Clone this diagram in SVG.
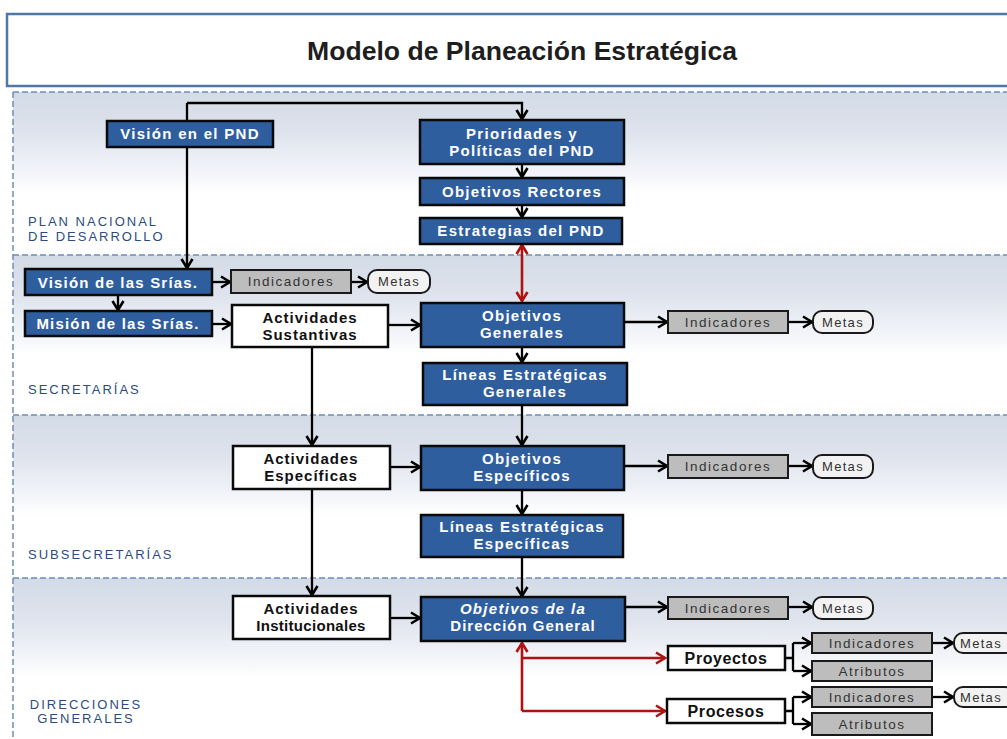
<svg xmlns="http://www.w3.org/2000/svg" width="1007" height="739" viewBox="0 0 1007 739">
<defs>
<linearGradient id="sec" x1="0" y1="0" x2="0" y2="1">
<stop offset="0" stop-color="#d2dbe6"/>
<stop offset="0.25" stop-color="#dfe3ed"/>
<stop offset="0.5" stop-color="#f3f5f9"/>
<stop offset="0.62" stop-color="#ffffff"/>
<stop offset="1" stop-color="#ffffff"/>
</linearGradient>
<marker id="ah" markerUnits="userSpaceOnUse" markerWidth="14" markerHeight="14" refX="11" refY="7" orient="auto">
<path d="M2,1.5 L11,7 L2,12.5" fill="none" stroke="#000" stroke-width="2.6"/>
</marker>
<marker id="rh" markerUnits="userSpaceOnUse" markerWidth="14" markerHeight="14" refX="11" refY="7" orient="auto-start-reverse">
<path d="M2,1.5 L11,7 L2,12.5" fill="none" stroke="#b01212" stroke-width="2.6"/>
</marker>
</defs>
<style>
.blue{fill:#2f5e9e;stroke:#0a0a0a;stroke-width:2.5}
.white{fill:#ffffff;stroke:#0a0a0a;stroke-width:2.5}
.gray{fill:#bdbdbd;stroke:#1a1a1a;stroke-width:2}
.metas{fill:#f2f2f2;stroke:#1a1a1a;stroke-width:2}
.tw{font-family:"Liberation Sans",Arial,sans-serif;font-weight:bold;font-size:15px;fill:#ffffff;text-anchor:middle;letter-spacing:1.3px}
.tb{font-family:"Liberation Sans",Arial,sans-serif;font-weight:bold;font-size:15px;fill:#111;text-anchor:middle;letter-spacing:1px}
.tg{font-family:"Liberation Sans",Arial,sans-serif;font-size:13.5px;fill:#333;text-anchor:middle;letter-spacing:1.5px}
.tm{font-family:"Liberation Sans",Arial,sans-serif;font-size:13px;fill:#333;text-anchor:middle;letter-spacing:1.3px}
.sl{font-family:"Liberation Sans",Arial,sans-serif;font-size:13px;fill:#2c4c80;letter-spacing:2px}
.dash{stroke:#6f8fb5;stroke-width:1.5;stroke-dasharray:6 3;fill:none}
.c{fill:none;stroke:#000;stroke-width:2.3;marker-end:url(#ah)}
.cn{fill:none;stroke:#000;stroke-width:2.3}
.r{fill:none;stroke:#b01212;stroke-width:2.6}
</style>
<rect x="0" y="0" width="1007" height="739" fill="#ffffff"/>
<g id="title">
<rect x="7" y="14" width="1010" height="72" fill="#ffffff" stroke="#4f78a6" stroke-width="2.5"/>
<text x="522" y="60" font-family="Liberation Sans,Arial,sans-serif" font-weight="bold" font-size="25" fill="#1e1e1e" text-anchor="middle" textLength="430" lengthAdjust="spacingAndGlyphs">Modelo de Planeación Estratégica</text>
</g>
<g id="sections">
<rect x="13" y="92" width="1000" height="163" fill="url(#sec)"/>
<rect x="13" y="255" width="1000" height="160" fill="url(#sec)"/>
<rect x="13" y="415" width="1000" height="163" fill="url(#sec)"/>
<rect x="13" y="578" width="1000" height="161" fill="url(#sec)"/>
<line class="dash" x1="13" y1="92" x2="1007" y2="92"/>
<line class="dash" x1="13" y1="255" x2="1007" y2="255"/>
<line class="dash" x1="13" y1="415" x2="1007" y2="415"/>
<line class="dash" x1="13" y1="578" x2="1007" y2="578"/>
<line class="dash" x1="13" y1="92" x2="13" y2="739"/>
<text class="sl" x="28" y="226">PLAN NACIONAL</text>
<text class="sl" x="28" y="241">DE DESARROLLO</text>
<text class="sl" x="28" y="394">SECRETARÍAS</text>
<text class="sl" x="28" y="559">SUBSECRETARÍAS</text>
<text class="sl" x="86" y="709" text-anchor="middle">DIRECCIONES</text>
<text class="sl" x="86" y="723" text-anchor="middle">GENERALES</text>
</g>
<g id="connectors">
<path class="c" d="M187,103 V268"/>
<path class="c" d="M187,103 H522 V119"/>
<path class="c" d="M522,164 V177"/>
<path class="c" d="M522,205 V217"/>
<path class="r" d="M522,245 V301" marker-start="url(#rh)" marker-end="url(#rh)"/>
<path class="c" d="M212,282 H230"/>
<path class="c" d="M351,282 H367"/>
<path class="c" d="M118,295 V310"/>
<path class="c" d="M212,324 H231"/>
<path class="c" d="M388,325 H420"/>
<path class="c" d="M624,322 H667"/>
<path class="c" d="M788,322 H812"/>
<path class="c" d="M522,347 V362"/>
<path class="c" d="M312,347 V445"/>
<path class="c" d="M522,405 V445"/>
<path class="c" d="M390,467 H420"/>
<path class="c" d="M624,466 H667"/>
<path class="c" d="M788,466 H812"/>
<path class="c" d="M522,490 V514"/>
<path class="c" d="M312,489 V595"/>
<path class="c" d="M522,557 V596"/>
<path class="c" d="M390,618 H420"/>
<path class="c" d="M625,607 H667"/>
<path class="c" d="M788,607 H812"/>
<path class="r" d="M522,711 V643" marker-end="url(#rh)"/>
<path class="r" d="M522,711 H665" marker-end="url(#rh)"/>
<path class="r" d="M522,658 H665" marker-end="url(#rh)"/>
<path class="cn" d="M786,658 H793 M793,643 V671"/>
<path class="c" d="M793,643 H811"/>
<path class="c" d="M793,671 H811"/>
<path class="cn" d="M786,711 H793 M793,697 V724"/>
<path class="c" d="M793,697 H811"/>
<path class="c" d="M793,724 H811"/>
<path class="c" d="M932,643 H953"/>
<path class="c" d="M932,697 H953"/>
</g>
<g id="n-vision-pnd"><rect class="blue" x="107" y="121" width="166" height="26"/><text class="tw" x="190" y="139">Visión en el PND</text></g>
<g id="n-prioridades"><rect class="blue" x="420" y="120" width="204" height="44"/><text class="tw" x="522" y="139">Prioridades y</text><text class="tw" x="522" y="156">Políticas del PND</text></g>
<g id="n-obj-rectores"><rect class="blue" x="420" y="178" width="204" height="27"/><text class="tw" x="522" y="197">Objetivos Rectores</text></g>
<g id="n-estrategias"><rect class="blue" x="420" y="218" width="202" height="26"/><text class="tw" x="521" y="236">Estrategias del PND</text></g>
<g id="n-vision-srias"><rect class="blue" x="25" y="269" width="187" height="26"/><text class="tw" x="118" y="288" style="letter-spacing:1.2px">Visión de las Srías.</text></g>
<g id="n-ind-1"><rect class="gray" x="231" y="270" width="120" height="23"/><text class="tg" x="291" y="286">Indicadores</text></g>
<g id="n-metas-1"><rect class="metas" x="368" y="270" width="62" height="23" rx="9"/><text class="tm" x="399" y="286">Metas</text></g>
<g id="n-mision-srias"><rect class="blue" x="25" y="311" width="187" height="25"/><text class="tw" x="118" y="329" style="letter-spacing:1.2px">Misión de las Srías.</text></g>
<g id="n-act-sust"><rect class="white" x="232" y="305" width="156" height="42"/><text class="tb" x="310" y="323">Actividades</text><text class="tb" x="310" y="340">Sustantivas</text></g>
<g id="n-obj-gen"><rect class="blue" x="421" y="303" width="203" height="44"/><text class="tw" x="522" y="321">Objetivos</text><text class="tw" x="522" y="338">Generales</text></g>
<g id="n-ind-2"><rect class="gray" x="668" y="311" width="120" height="22"/><text class="tg" x="728" y="327">Indicadores</text></g>
<g id="n-metas-2"><rect class="metas" x="813" y="311" width="60" height="22" rx="9"/><text class="tm" x="843" y="327">Metas</text></g>
<g id="n-lineas-gen"><rect class="blue" x="423" y="363" width="204" height="42"/><text class="tw" x="525" y="380">Líneas Estratégicas</text><text class="tw" x="525" y="397">Generales</text></g>
<g id="n-act-esp"><rect class="white" x="233" y="446" width="157" height="43"/><text class="tb" x="311" y="464">Actividades</text><text class="tb" x="311" y="481">Específicas</text></g>
<g id="n-obj-esp"><rect class="blue" x="421" y="446" width="203" height="44"/><text class="tw" x="522" y="464">Objetivos</text><text class="tw" x="522" y="481">Específicos</text></g>
<g id="n-ind-3"><rect class="gray" x="668" y="455" width="120" height="23"/><text class="tg" x="728" y="471">Indicadores</text></g>
<g id="n-metas-3"><rect class="metas" x="813" y="455" width="60" height="23" rx="9"/><text class="tm" x="843" y="471">Metas</text></g>
<g id="n-lineas-esp"><rect class="blue" x="421" y="515" width="202" height="42"/><text class="tw" x="522" y="532">Líneas Estratégicas</text><text class="tw" x="522" y="549">Específicas</text></g>
<g id="n-act-inst"><rect class="white" x="233" y="596" width="157" height="43"/><text class="tb" x="311" y="614">Actividades</text><text class="tb" x="311" y="631" style="letter-spacing:0.3px">Institucionales</text></g>
<g id="n-obj-dg"><rect class="blue" x="421" y="597" width="204" height="44"/><text class="tw" x="523" y="614" font-style="italic">Objetivos de la</text><text class="tw" x="523" y="631" style="letter-spacing:1px">Dirección General</text></g>
<g id="n-ind-4"><rect class="gray" x="668" y="597" width="120" height="22"/><text class="tg" x="728" y="613">Indicadores</text></g>
<g id="n-metas-4"><rect class="metas" x="813" y="597" width="60" height="22" rx="9"/><text class="tm" x="843" y="613">Metas</text></g>
<g id="n-proyectos"><rect class="white" x="668" y="646" width="117" height="24"/><text class="tb" x="726" y="664" style="font-size:16px;letter-spacing:0.6px">Proyectos</text></g>
<g id="n-ind-5"><rect class="gray" x="812" y="633" width="120" height="20"/><text class="tg" x="872" y="648">Indicadores</text></g>
<g id="n-atr-5"><rect class="gray" x="812" y="661" width="120" height="20"/><text class="tg" x="872" y="676">Atributos</text></g>
<g id="n-metas-5"><rect class="metas" x="954" y="633" width="60" height="20" rx="9"/><text class="tm" x="981" y="648">Metas</text></g>
<g id="n-procesos"><rect class="white" x="667" y="699" width="118" height="24"/><text class="tb" x="726" y="717" style="font-size:16px;letter-spacing:0.6px">Procesos</text></g>
<g id="n-ind-6"><rect class="gray" x="812" y="687" width="120" height="20"/><text class="tg" x="872" y="702">Indicadores</text></g>
<g id="n-atr-6"><rect class="gray" x="812" y="713" width="120" height="22"/><text class="tg" x="872" y="729">Atributos</text></g>
<g id="n-metas-6"><rect class="metas" x="954" y="687" width="60" height="20" rx="9"/><text class="tm" x="981" y="702">Metas</text></g>
</svg>
